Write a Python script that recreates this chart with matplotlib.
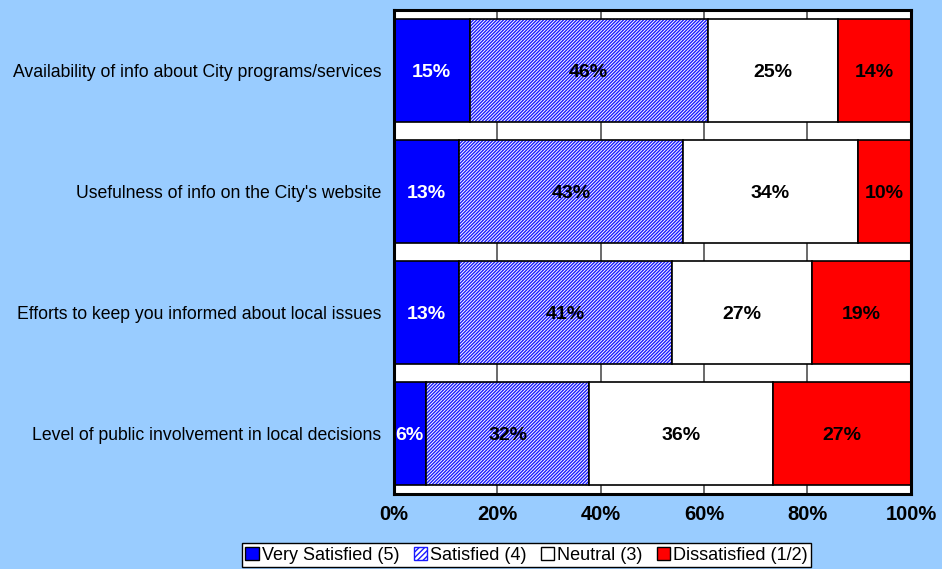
import numpy as np
import matplotlib.pyplot as plt
from matplotlib.patches import Patch

plt.rcParams['font.family'] = ['Liberation Sans', 'DejaVu Sans']
plt.rcParams['hatch.linewidth'] = 1.0

items = ['Availability of info about City programs/services',
         "Usefulness of info on the City's website",
         'Efforts to keep you informed about local issues',
         'Level of public involvement in local decisions']
very_sat = [14.7, 12.6, 12.6, 6.2]
sat = [46.0, 43.3, 41.2, 31.6]
neutral = [25.2, 33.8, 27.1, 35.5]
dissat = [14.1, 10.3, 19.1, 26.7]
series_names = ['Very Satisfied (5)', 'Satisfied (4)', 'Neutral (3)', 'Dissatisfied (1/2)']
ticks = [0, 20, 40, 60, 80, 100]

bg = '#99CCFF'
fig = plt.figure(figsize=(9.42, 5.69), dpi=100, facecolor=bg)
ax = fig.add_axes([0.418, 0.132, 0.549, 0.8505])
ax.set_facecolor('white')
ax.set_axisbelow(True)
ax.grid(axis='x', color='#505050', linewidth=1.2)

y = np.arange(len(items))
h = 0.845
left = np.zeros(len(items))
lab = dict(ha='center', va='center', fontsize=14, fontweight='bold')

# very satisfied
ax.barh(y, very_sat, h, left=left, color='#0000FF', edgecolor='black', linewidth=1.2)
for yi, v, l in zip(y, very_sat, left):
    ax.text(l + v / 2, yi + 0.02, '%d%%' % round(v), color='white', **lab)
left += very_sat

# satisfied: hatched blue, black outline drawn separately
ax.barh(y, sat, h, left=left, color='white', edgecolor='#1a1aff', hatch='//////////', linewidth=0)
ax.barh(y, sat, h, left=left, fill=False, edgecolor='black', linewidth=1.2)
for yi, v, l in zip(y, sat, left):
    ax.text(l + v / 2, yi + 0.02, '%d%%' % round(v), color='black', **lab)
left += sat

ax.barh(y, neutral, h, left=left, color='white', edgecolor='black', linewidth=1.2)
for yi, v, l in zip(y, neutral, left):
    ax.text(l + v / 2, yi + 0.02, '%d%%' % round(v), color='black', **lab)
left += neutral

ax.barh(y, dissat, h, left=left, color='#FF0000', edgecolor='black', linewidth=1.2)
for yi, v, l in zip(y, dissat, left):
    ax.text(l + v / 2, yi + 0.02, '%d%%' % round(v), color='black', **lab)

ax.set_xlim(0, 100)
ax.set_ylim(len(items) - 0.5, -0.5)
ax.set_yticks(y)
ax.set_yticklabels(items, fontsize=12.7)
ax.tick_params(axis='y', length=0, pad=9)
ax.set_xticks(ticks)
ax.set_xticklabels(['%d%%' % t for t in ticks], fontsize=14.5, fontweight='bold')
ax.tick_params(axis='x', length=0, pad=8)
for s in ax.spines.values():
    s.set_linewidth(2.2)

handles = [Patch(facecolor='#0000FF', edgecolor='black'),
           Patch(facecolor='white', edgecolor='#1a1aff', hatch='//////'),
           Patch(facecolor='white', edgecolor='black'),
           Patch(facecolor='#FF0000', edgecolor='black')]
leg = fig.legend(handles, series_names, loc='lower center', bbox_to_anchor=(0.559, 0.0),
                 ncol=4, fontsize=13, frameon=True, fancybox=False, framealpha=1,
                 handlelength=0.75, handleheight=0.75, handletextpad=0.15, columnspacing=0.8,
                 borderpad=0.2, borderaxespad=0.1)
leg.get_frame().set_edgecolor('black')
leg.get_frame().set_linewidth(1)

fig.savefig('out.png', dpi=100, facecolor=bg)
